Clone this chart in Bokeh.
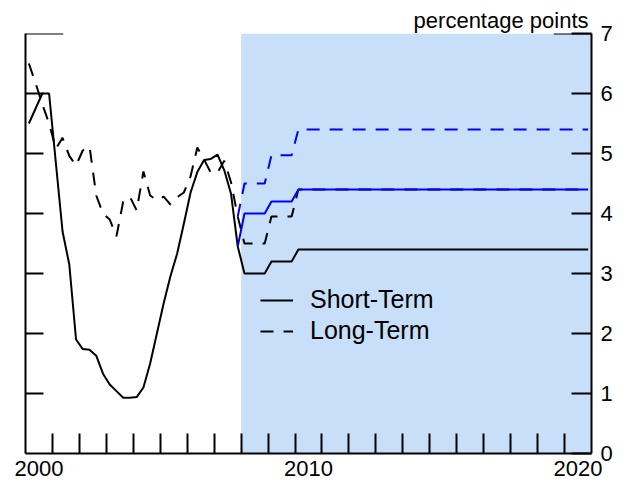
from bokeh.plotting import figure
from bokeh.models import (LinearAxis, FixedTicker, Range1d, BoxAnnotation, Title,
                          Legend, LegendItem, Arrow)
from bokeh.embed import file_html
from bokeh.resources import INLINE

# ---------------- data ----------------
hist_years = [2000, 2001, 2002, 2003, 2004, 2005, 2006, 2007]
fore_years = [2008, 2009, 2010, 2011, 2012, 2013, 2014, 2015, 2016, 2017, 2018, 2019, 2020]

short_hist = [5.50, 5.75, 6.00, 6.00,
              4.85, 3.70, 3.15, 1.90,
              1.74, 1.73, 1.63, 1.33,
              1.15, 1.04, 0.93, 0.93,
              0.94, 1.10, 1.50, 2.00,
              2.50, 2.95, 3.33, 3.83,
              4.35, 4.69, 4.89, 4.91,
              4.98, 4.72, 4.33, 3.45]
long_hist = [6.50, 6.17, 5.82, 5.50,
             5.08, 5.26, 4.96, 4.80,
             5.05, 5.12, 4.30, 4.00,
             3.90, 3.62, 4.20, 4.28,
             4.05, 4.70, 4.30, 4.22,
             4.28, 4.15, 4.27, 4.35,
             4.62, 5.10, 4.90, 4.68,
             4.68, 4.88, 4.52, 3.95]

short_base = [3.0, 3.0, 3.0, 3.0,  3.2, 3.2, 3.2, 3.2,
              3.4, 3.4, 3.4, 3.4,  3.4, 3.4, 3.4, 3.4,  3.4, 3.4, 3.4, 3.4,
              3.4, 3.4, 3.4, 3.4,  3.4, 3.4, 3.4, 3.4,  3.4, 3.4, 3.4, 3.4,
              3.4, 3.4, 3.4, 3.4,  3.4, 3.4, 3.4, 3.4,  3.4, 3.4, 3.4, 3.4,
              3.4, 3.4, 3.4, 3.4,  3.4, 3.4, 3.4, 3.4]
short_alt = [4.0, 4.0, 4.0, 4.0,  4.2, 4.2, 4.2, 4.2,
             4.4, 4.4, 4.4, 4.4,  4.4, 4.4, 4.4, 4.4,  4.4, 4.4, 4.4, 4.4,
             4.4, 4.4, 4.4, 4.4,  4.4, 4.4, 4.4, 4.4,  4.4, 4.4, 4.4, 4.4,
             4.4, 4.4, 4.4, 4.4,  4.4, 4.4, 4.4, 4.4,  4.4, 4.4, 4.4, 4.4,
             4.4, 4.4, 4.4, 4.4,  4.4, 4.4, 4.4, 4.4]
long_base = [3.5, 3.5, 3.5, 3.5,  3.95, 3.95, 3.95, 3.95,
             4.4, 4.4, 4.4, 4.4,  4.4, 4.4, 4.4, 4.4,  4.4, 4.4, 4.4, 4.4,
             4.4, 4.4, 4.4, 4.4,  4.4, 4.4, 4.4, 4.4,  4.4, 4.4, 4.4, 4.4,
             4.4, 4.4, 4.4, 4.4,  4.4, 4.4, 4.4, 4.4,  4.4, 4.4, 4.4, 4.4,
             4.4, 4.4, 4.4, 4.4,  4.4, 4.4, 4.4, 4.4]
long_alt = [4.5, 4.5, 4.5, 4.5,  4.97, 4.97, 4.97, 4.97,
            5.4, 5.4, 5.4, 5.4,  5.4, 5.4, 5.4, 5.4,  5.4, 5.4, 5.4, 5.4,
            5.4, 5.4, 5.4, 5.4,  5.4, 5.4, 5.4, 5.4,  5.4, 5.4, 5.4, 5.4,
            5.4, 5.4, 5.4, 5.4,  5.4, 5.4, 5.4, 5.4,  5.4, 5.4, 5.4, 5.4,
            5.4, 5.4, 5.4, 5.4,  5.4, 5.4, 5.4, 5.4]

x_tick_labels = ["2000", "2010", "2020"]
y_ticks = [0, 1, 2, 3, 4, 5, 6, 7]
shade_start = 2008
x_start, x_end = 2000, 2021
y_start, y_end = 0, 7

# quarter mid-points in decimal years
t_hist = [y + (q - 0.5) / 4 for y in hist_years for q in range(1, 5)]
t_fore = [y + (q - 0.5) / 4 for y in fore_years for q in range(1, 5)]

FONT = "Liberation Sans"
BLUE = "#0000ff"
SHADE = "#c8dffa"

p = figure(width=626, height=486, x_range=Range1d(x_start, x_end),
           y_range=Range1d(y_start, y_end), output_backend="svg",
           toolbar_location=None, x_axis_location=None, y_axis_location=None,
           min_border_left=25, min_border_right=35, min_border_top=33,
           min_border_bottom=33)
p.outline_line_color = None
p.background_fill_color = "white"
p.border_fill_color = "white"
for g in p.grid:
    g.visible = False

p.add_layout(BoxAnnotation(left=shade_start, right=x_end, fill_color=SHADE,
                           fill_alpha=1, line_color=None, level="underlay"))

# lines
r_long = p.line(t_hist + t_fore, long_hist + long_base, line_color="black",
                line_width=2, line_dash="13 10")
r_short = p.line(t_hist + t_fore, short_hist + short_base, line_color="black",
                 line_width=2)
p.line(t_hist[-1:] + t_fore, long_hist[-1:] + long_alt, line_color=BLUE,
       line_width=2, line_dash="13 10")
p.line(t_hist[-1:] + t_fore, short_hist[-1:] + short_alt, line_color=BLUE,
       line_width=2)

# bottom axis: year ticks inside, labels at mid-year
label_pos = [int(s) + 0.5 for s in x_tick_labels]
xa = LinearAxis(ticker=FixedTicker(ticks=label_pos,
                                   minor_ticks=list(range(x_start + 1, x_end))),
                major_label_overrides={pos: s for pos, s in zip(label_pos, x_tick_labels)},
                major_tick_in=0, major_tick_out=0, minor_tick_in=20, minor_tick_out=0,
                axis_line_width=2, minor_tick_line_width=2,
                major_label_text_font=FONT, major_label_text_font_size="22px",
                major_label_standoff=7, major_label_text_color="black")
p.add_layout(xa, "below")

# left axis: unlabelled tick marks (drawn as minor ticks)
la = LinearAxis(ticker=FixedTicker(ticks=[], minor_ticks=y_ticks[1:-1]),
                major_tick_in=0, major_tick_out=0, minor_tick_in=18, minor_tick_out=0,
                axis_line_width=2, minor_tick_line_width=2)
p.add_layout(la, "left")

# right axis: labelled
ra = LinearAxis(ticker=FixedTicker(ticks=y_ticks, minor_ticks=[]),
                major_tick_in=20, major_tick_out=0, minor_tick_in=0, minor_tick_out=0,
                axis_line_width=2, major_tick_line_width=2,
                major_label_text_font=FONT, major_label_text_font_size="22px",
                major_label_standoff=9, major_label_text_color="black")
p.add_layout(ra, "right")

# short top corner strokes
p.add_layout(Arrow(x_start=x_start, y_start=y_end, x_end=x_start + 1.4, y_end=y_end,
                   start=None, end=None, line_width=2, line_color="black"))
p.add_layout(Arrow(x_start=x_end - 1.4, y_start=y_end, x_end=x_end, y_end=y_end,
                   start=None, end=None, line_width=2, line_color="black"))

p.add_layout(Title(text="percentage points", align="right", text_font=FONT,
                   text_font_size="22px", text_font_style="normal",
                   text_color="black", offset=3, standoff=2), "above")

legend = Legend(items=[LegendItem(label="Short-Term", renderers=[r_short]),
                       LegendItem(label="Long-Term", renderers=[r_long])],
                location=(235, 108), label_text_font=FONT, label_text_font_size="25px",
                label_text_color="black",
                glyph_width=33, glyph_height=20, label_height=20, label_standoff=17,
                spacing=2, padding=0, margin=0, background_fill_alpha=0,
                border_line_alpha=0)
p.add_layout(legend, "center")

open("out.html", "w").write(file_html(p, INLINE))
